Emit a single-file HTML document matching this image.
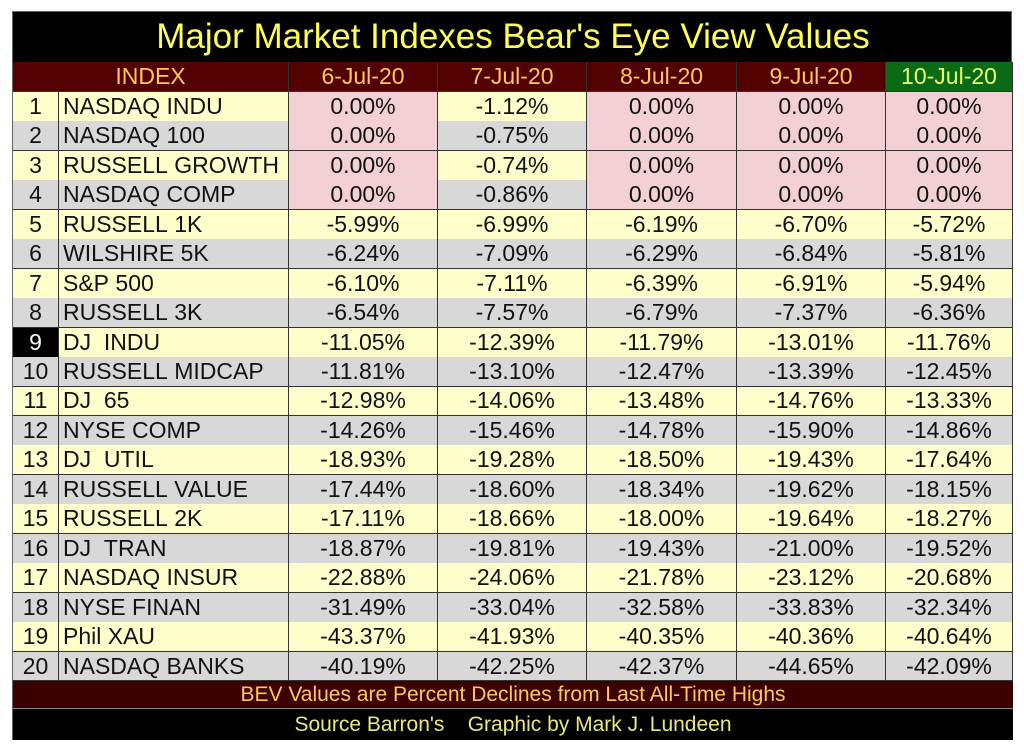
<!DOCTYPE html>
<html><head><meta charset="utf-8"><style>
body{margin:0;background:#fff;width:1024px;height:755px;overflow:hidden;font-family:"Liberation Sans",Arial,sans-serif}
#wrap{position:absolute;left:12px;top:11px;width:1000px;height:729px;background:#000;border:1px solid #666;box-sizing:border-box}
.c{position:absolute;box-sizing:border-box;display:flex;align-items:center;justify-content:center;font-size:23px;color:#111;border-right:1px solid #333;border-bottom:1px solid #333;white-space:nowrap}
</style></head><body>
<div id="wrap">
<div style="position:absolute;left:0;top:0;width:1000px;height:50px;display:flex;align-items:center;justify-content:center;color:#ffff55;font-size:35px">Major Market Indexes Bear's Eye View Values</div>
</div>
<script>
const dates=["6-Jul-20","7-Jul-20","8-Jul-20","9-Jul-20","10-Jul-20"];
const names=["NASDAQ INDU","NASDAQ 100","RUSSELL GROWTH","NASDAQ COMP","RUSSELL 1K","WILSHIRE 5K","S&P 500","RUSSELL 3K","DJ  INDU","RUSSELL MIDCAP","DJ  65","NYSE COMP","DJ  UTIL","RUSSELL VALUE","RUSSELL 2K","DJ  TRAN","NASDAQ INSUR","NYSE FINAN","Phil XAU","NASDAQ BANKS"];
const vals=[
["0.00%","-1.12%","0.00%","0.00%","0.00%"],
["0.00%","-0.75%","0.00%","0.00%","0.00%"],
["0.00%","-0.74%","0.00%","0.00%","0.00%"],
["0.00%","-0.86%","0.00%","0.00%","0.00%"],
["-5.99%","-6.99%","-6.19%","-6.70%","-5.72%"],
["-6.24%","-7.09%","-6.29%","-6.84%","-5.81%"],
["-6.10%","-7.11%","-6.39%","-6.91%","-5.94%"],
["-6.54%","-7.57%","-6.79%","-7.37%","-6.36%"],
["-11.05%","-12.39%","-11.79%","-13.01%","-11.76%"],
["-11.81%","-13.10%","-12.47%","-13.39%","-12.45%"],
["-12.98%","-14.06%","-13.48%","-14.76%","-13.33%"],
["-14.26%","-15.46%","-14.78%","-15.90%","-14.86%"],
["-18.93%","-19.28%","-18.50%","-19.43%","-17.64%"],
["-17.44%","-18.60%","-18.34%","-19.62%","-18.15%"],
["-17.11%","-18.66%","-18.00%","-19.64%","-18.27%"],
["-18.87%","-19.81%","-19.43%","-21.00%","-19.52%"],
["-22.88%","-24.06%","-21.78%","-23.12%","-20.68%"],
["-31.49%","-33.04%","-32.58%","-33.83%","-32.34%"],
["-43.37%","-41.93%","-40.35%","-40.36%","-40.64%"],
["-40.19%","-42.25%","-42.37%","-44.65%","-42.09%"]];
const W=document.getElementById('wrap');
const colX=[0,46,276,425,574,724,873,1000];
const top0=80,rh=29.45;
function cell(x,y,w,h,txt,bg,col,just,name){
 const d=document.createElement('div');d.className='c';
 
 
 d.style.left=x+'px';d.style.top=y+'px';d.style.width=w+'px';d.style.height=h+'px';
 d.style.background=bg;d.style.color=col;if(just)d.style.justifyContent=just;
 if(just==='flex-start')d.style.paddingLeft='4px';
 d.textContent=txt;W.appendChild(d);return d;}
cell(0,50,276,30,"INDEX","#520000","#ffc85a",null,"header-index");
dates.forEach((t,i)=>{const g=i===4;cell(colX[i+2],50,colX[i+3]-colX[i+2],30,t,g?"#0b6b14":"#520000",g?"#e8ff70":"#ffc85a",null,"header-date");});
names.forEach((n,r)=>{
 const y=top0+r*rh,h=rh+0.5,bg=r%2===0?"#ffffcc":"#d8d8d8";
 cell(0,y,46,h,String(r+1),r===8?"#000":bg,r===8?"#fff":"#111",null,"row-number");
 cell(46,y,230,h,n.replace(/ /g,'\u00a0'),bg,"#111","flex-start","index-name");
 vals[r].forEach((v,i)=>{const pink=r<4&&i!==1;cell(colX[i+2],y,colX[i+3]-colX[i+2],h,v,pink?"#f2d0d4":bg,"#111",null,"value-cell");});
});
const f1=cell(0,669,1000,28,"BEV Values are Percent Declines from Last All-Time Highs","#3c0000","#ffc85a",null,"footer-note");
f1.style.borderRight='none';f1.style.borderBottom='1px solid #888';f1.style.fontSize='21px';
const f2=cell(0,697,1000,31,"Source Barron's    Graphic by Mark J. Lundeen","#000","#e8e880",null,"footer-source");
f2.style.borderRight='none';f2.style.borderBottom='none';f2.style.fontSize='21px';f2.style.whiteSpace='pre';
</script>
</body></html>
